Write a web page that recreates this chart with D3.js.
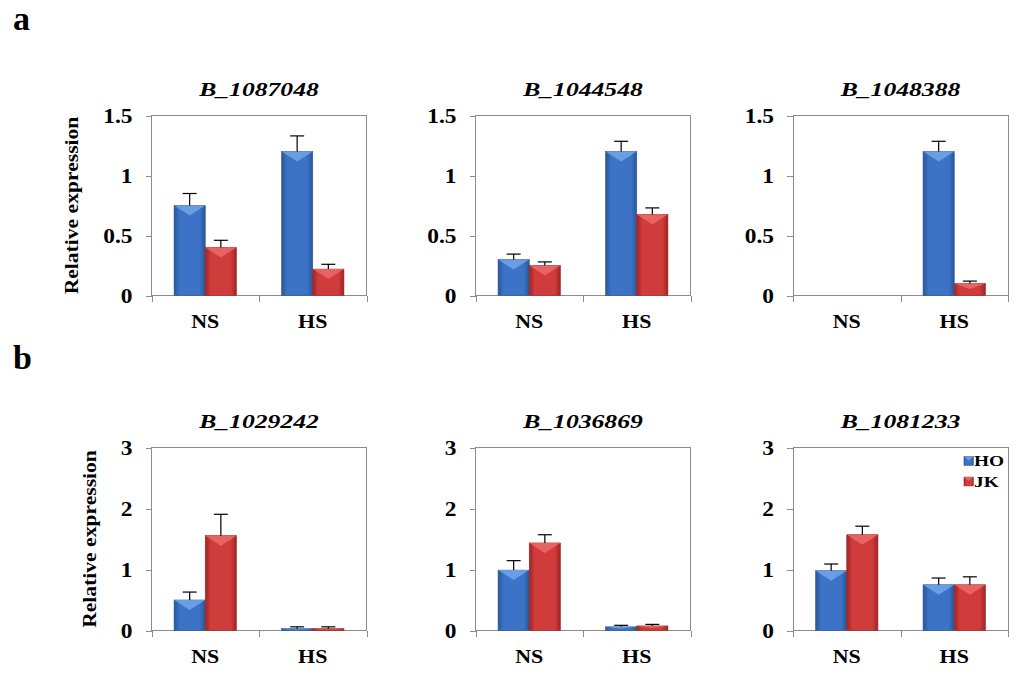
<!DOCTYPE html>
<html>
<head>
<meta charset="utf-8">
<script src="https://cdn.jsdelivr.net/npm/d3@7"></script>
<style>
body { margin: 0; background: #fff; }
</style>
</head>
<body>
<div id="chart"></div>
<script>
// DATA ------------------------------------
const categories = ["NS", "HS"]
const series = ["HO", "JK"]
const genes = ["B_1087048", "B_1044548", "B_1048388", "B_1029242", "B_1036869", "B_1081233"]

// mean relative expression, [NS, HS] per gene
const hoMean = [[0.75, 1.20], [0.30, 1.20], [0, 1.20], [0.50, 0.03], [0.99, 0.06], [0.98, 0.75]]
const jkMean = [[0.40, 0.22], [0.25, 0.675], [0, 0.10], [1.555, 0.03], [1.435, 0.075], [1.57, 0.75]]
// upper error bar length
const hoErr = [[0.10, 0.13], [0.045, 0.085], [0, 0.085], [0.13, 0.03], [0.155, 0.025], [0.11, 0.11]]
const jkErr = [[0.06, 0.04], [0.03, 0.055], [0, 0.02], [0.35, 0.03], [0.135, 0.025], [0.14, 0.13]]

const yMax = [1.5, 1.5, 1.5, 3, 3, 3]
const yTicks = [
    [0, 0.5, 1, 1.5], [0, 0.5, 1, 1.5], [0, 0.5, 1, 1.5],
    [0, 1, 2, 3], [0, 1, 2, 3], [0, 1, 2, 3]
]
const panelLetters = ["a", "b"]

// LAYOUT ----------------------------------
const width = 1024
const height = 679
const colLeft = [151.5, 475.5, 793]
const rowTop = [115.5, 447.5]
const rowH = [180, 183]
const plotW = 215
const font = "'Liberation Serif', 'Times New Roman', serif"
const axisGrey = "#8c8c8c"

const colors = {
    HO: {dark: "#2a5598", mid: "#3c73c6", light: "#7db0ee"},
    JK: {dark: "#9e2424", mid: "#d03c3c", light: "#f27474"}
}

const svg = d3.select("#chart").append("svg")
        .attr("width", width)
        .attr("height", height)
        .style("font-family", font)
        .style("font-weight", "bold")

// horizontal gradients give the bars their rounded look
const defs = svg.append("defs")
series.forEach(s => {
    const grad = defs.append("linearGradient")
            .attr("id", "grad-" + s)
            .attr("x1", 0).attr("x2", 1).attr("y1", 0).attr("y2", 0)
    grad.append("stop").attr("offset", 0).attr("stop-color", colors[s].dark)
    grad.append("stop").attr("offset", 0.18).attr("stop-color", colors[s].mid)
    grad.append("stop").attr("offset", 0.82).attr("stop-color", colors[s].mid)
    grad.append("stop").attr("offset", 1).attr("stop-color", colors[s].dark)
})

// draw one bevelled bar
function drawBar(g, x, y, w, h, s) {
    g.append("rect")
        .attr("x", x).attr("y", y)
        .attr("width", w).attr("height", h)
        .attr("fill", `url(#grad-${s})`)
        .attr("stroke", colors[s].dark)
        .attr("stroke-width", 0.6)
    const depth = Math.min(10, h * 0.45)
    if (depth > 0.5) {
        g.append("path")
            .attr("d", `M${x},${y}L${x + w},${y}L${x + w / 2},${y + depth}Z`)
            .attr("fill", colors[s].light)
            .attr("opacity", 0.7)
    }
}

// panel letters
panelLetters.forEach((l, r) => {
    svg.append("text")
        .attr("x", 13)
        .attr("y", r === 0 ? 30 : 369)
        .attr("font-size", 34)
        .text(l)
})

// PANELS ----------------------------------
genes.forEach((gene, i) => {
    const row = Math.floor(i / 3)
    const col = i % 3
    const w = plotW
    const h = rowH[row]
    const g = svg.append("g")
            .attr("transform", `translate(${colLeft[col]},${rowTop[row]})`)

    const x0 = d3.scaleBand()
        .domain(categories)
        .range([0, w])
        .paddingInner(0.42)
        .paddingOuter(0.21)
    const x1 = d3.scaleBand()
        .domain(series)
        .range([0, x0.bandwidth()])
    const y = d3.scaleLinear()
        .domain([0, yMax[i]])
        .range([h, 0])

    // plot frame
    g.append("rect")
        .attr("width", w).attr("height", h)
        .attr("fill", "none")
        .attr("stroke", axisGrey)
        .attr("shape-rendering", "crispEdges")

    // y axis
    const yGroup = g.append("g")
        .call(d3.axisLeft(y).tickValues(yTicks[i]).tickSize(6).tickFormat(d3.format("~g")))
        .attr("font-family", null)
        .attr("font-size", 20)
    yGroup.select(".domain").remove()
    yGroup.selectAll("line").attr("stroke", axisGrey).attr("shape-rendering", "crispEdges")
    yGroup.selectAll("text")
        .attr("x", null)
        .attr("dy", "0.35em")
        .attr("transform", "translate(-19,0) scale(1.17,1)")
        .attr("fill", "#000")

    // x axis: ticks on category boundaries
    const xb = d3.scaleLinear().domain([0, categories.length]).range([0, w])
    const xGroup = g.append("g")
        .attr("transform", `translate(0,${h})`)
        .call(d3.axisBottom(xb).tickValues(d3.range(categories.length + 1)).tickSize(6).tickFormat(""))
    xGroup.select(".domain").remove()
    xGroup.selectAll("line").attr("stroke", axisGrey).attr("shape-rendering", "crispEdges")

    g.selectAll(".cat")
        .data(categories)
        .join("text")
            .attr("class", "cat")
            .attr("text-anchor", "middle")
            .attr("font-size", 18)
            .attr("transform", d => `translate(${x0(d) + x0.bandwidth() / 2},${h + 32}) scale(1.22,1)`)
            .text(d => d)

    // bars
    const means = [hoMean[i], jkMean[i]]
    const errs = [hoErr[i], jkErr[i]]
    const bars = categories.flatMap((c, ci) =>
        series.map((s, si) => ({c, s, v: means[si][ci], e: errs[si][ci]})))

    const barG = g.append("g")
    bars.forEach(d => {
        const bx = x0(d.c) + x1(d.s)
        const by = y(d.v)
        if (h - by > 0) drawBar(barG, bx, by, x1.bandwidth(), h - by, d.s)
    })

    // error bars
    const errG = g.append("g")
        .attr("stroke", "#000")
        .attr("stroke-width", 1.2)
    bars.filter(d => d.e > 0).forEach(d => {
        const cx = x0(d.c) + x1(d.s) + x1.bandwidth() / 2
        errG.append("line")
            .attr("x1", cx).attr("x2", cx)
            .attr("y1", y(d.v)).attr("y2", y(d.v + d.e))
        errG.append("line")
            .attr("x1", cx - 7).attr("x2", cx + 7)
            .attr("y1", y(d.v + d.e)).attr("y2", y(d.v + d.e))
    })

    // title
    g.append("text")
        .attr("text-anchor", "middle")
        .attr("font-style", "italic")
        .attr("font-size", 19)
        .attr("transform", `translate(${w / 2},-20) scale(1.35,1)`)
        .text(gene)

    // y label, left of the widest tick label
    if (col === 0) {
        let minLeft = Infinity
        yGroup.selectAll("text").each(function () {
            minLeft = Math.min(minLeft, this.getBoundingClientRect().left)
        })
        const lx = minLeft - colLeft[col] - 21 - 4
        g.append("text")
            .attr("text-anchor", "middle")
            .attr("font-size", 18)
            .attr("transform", `translate(${lx},${h / 2}) rotate(-90) scale(1.2,1)`)
            .text("Relative expression")
    }

    // legend in the last panel
    if (i === genes.length - 1) {
        const lg = g.append("g").attr("transform", "translate(171,9)")
        series.forEach((s, si) => {
            drawBar(lg, 0, si * 20.6, 9.3, 8.8, s)
            lg.append("text")
                .attr("font-size", 15)
                .attr("transform", `translate(10,${si * 20.6 + 9.5}) scale(1.29,1)`)
                .text(s)
        })
    }
})
</script>
</body>
</html>
